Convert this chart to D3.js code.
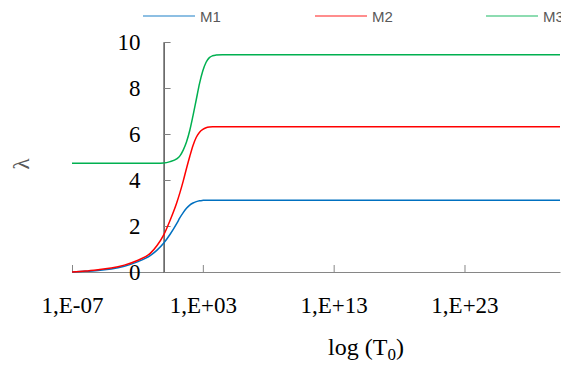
<!DOCTYPE html>
<html>
<head>
<meta charset="utf-8">
<script src="https://cdn.jsdelivr.net/npm/d3@7"></script>
<style>
    body { margin: 0; background: #fff; }
    svg { display: block; }
</style>
</head>
<body>
<svg class="chart" width="561" height="365"></svg>
<script>
//#region Data
// log10(T0) grid and lambda values
const logT = [-7, -6, -5, -4, -3, -2, -1, -0.5, 0, 0.5, 1, 1.25, 1.5, 1.75, 2, 2.25, 2.5, 2.75, 3, 3.25, 3.5, 3.75, 4, 4.5, 5, 6, 10, 20, 30.3];

const m1 = [0, 0.03, 0.07, 0.13, 0.25, 0.44, 0.72, 0.95, 1.25, 1.64, 2.1, 2.36, 2.58, 2.77, 2.91, 3.0, 3.06, 3.1, 3.115, 3.12, 3.12, 3.12, 3.12, 3.12, 3.12, 3.12, 3.12, 3.12, 3.12];
const m2 = [0, 0.04, 0.1, 0.17, 0.3, 0.5, 0.82, 1.15, 1.6, 2.25, 3.0, 3.45, 3.95, 4.5, 5.02, 5.5, 5.86, 6.08, 6.2, 6.27, 6.3, 6.31, 6.31, 6.31, 6.31, 6.31, 6.31, 6.31, 6.31];
const m3 = [4.73, 4.73, 4.73, 4.73, 4.73, 4.73, 4.73, 4.73, 4.74, 4.8, 4.92, 5.05, 5.3, 5.65, 6.15, 6.8, 7.5, 8.2, 8.75, 9.12, 9.32, 9.4, 9.43, 9.45, 9.45, 9.45, 9.45, 9.45, 9.45];

const seriesNames = ['M1', 'M2', 'M3'];
const seriesColors = ['#0070c0', '#ff0000', '#00b050'];

const xTickValues = [-7, 3, 13, 23];
const xTickLabels = ['1,E-07', '1,E+03', '1,E+13', '1,E+23'];
const yTickValues = [0, 2, 4, 6, 8, 10];
//#endregion

const svg = d3.select('.chart');

const xScale = d3.scaleLinear()
    .domain([-7, 30.3])
    .range([72, 560]);

const yScale = d3.scaleLinear()
    .domain([0, 10])
    .range([272, 42]);

const series = [m1, m2, m3].map((values, i) => ({
    name: seriesNames[i],
    color: seriesColors[i],
    points: values.map((v, j) => ({ x: logT[j], y: v }))
}));

//#region Axes
const xAxis = svg.append('g')
    .attr('transform', `translate(0, ${yScale(0)})`)
    .call(d3.axisBottom(xScale)
        .tickValues(xTickValues)
        .tickFormat((d, i) => xTickLabels[i])
        .tickSizeInner(-7)
        .tickSizeOuter(0)
        .tickPadding(25));

xAxis.select('.domain').attr('stroke', '#868686');
xAxis.selectAll('.tick line').attr('stroke', '#868686');
xAxis.selectAll('.tick text')
    .attr('fill', '#000')
    .style('font-family', '"Liberation Serif", "Times New Roman", serif')
    .style('font-size', '23px');

// y axis crosses at T0 = 1
const yAxis = svg.append('g')
    .attr('transform', `translate(${xScale(0)}, 0)`)
    .call(d3.axisLeft(yScale)
        .tickValues(yTickValues)
        .tickSizeInner(-7)
        .tickSizeOuter(0)
        .tickPadding(23));

yAxis.select('.domain').attr('stroke', '#000');
yAxis.selectAll('.tick line').attr('stroke', '#7f7f7f');
yAxis.selectAll('.tick text')
    .attr('fill', '#000')
    .attr('dy', '0.33em')
    .style('font-family', '"Liberation Serif", "Times New Roman", serif')
    .style('font-size', '23px');

svg.append('text')
    .attr('transform', 'translate(29, 164) rotate(-90)')
    .attr('text-anchor', 'middle')
    .attr('fill', '#595959')
    .style('font-family', '"Liberation Serif", "Times New Roman", serif')
    .style('font-size', '23px')
    .text('λ');

const xTitle = svg.append('text')
    .attr('x', 366)
    .attr('y', 355)
    .attr('text-anchor', 'middle')
    .attr('fill', '#000')
    .style('font-family', '"Liberation Serif", "Times New Roman", serif')
    .style('font-size', '24px');
xTitle.append('tspan').text('log (T');
xTitle.append('tspan').attr('dy', 5).style('font-size', '17px').text('0');
xTitle.append('tspan').attr('dy', -5).text(')');
//#endregion

//#region Lines
const lineGen = d3.line()
    .x(d => xScale(d.x))
    .y(d => yScale(d.y))
    .curve(d3.curveMonotoneX);

svg.append('g')
    .selectAll('path')
    .data(series)
    .join('path')
    .attr('d', d => lineGen(d.points))
    .attr('fill', 'none')
    .attr('stroke', d => d.color)
    .attr('stroke-width', 1.5);
//#endregion

//#region Legend
const legendX = [143, 315, 486];

const legend = svg.append('g')
    .selectAll('g')
    .data(series)
    .join('g')
    .attr('transform', (d, i) => `translate(${legendX[i]}, 16)`);

legend.append('line')
    .attr('x1', 0)
    .attr('x2', 52)
    .attr('stroke', d => d.color)
    .attr('stroke-opacity', 0.6)
    .attr('stroke-width', 1.5);

legend.append('text')
    .attr('x', 57)
    .attr('y', 6)
    .attr('fill', '#595959')
    .style('font-family', '"Liberation Sans", Arial, sans-serif')
    .style('font-size', '15px')
    .text(d => d.name);
//#endregion
</script>
</body>
</html>
